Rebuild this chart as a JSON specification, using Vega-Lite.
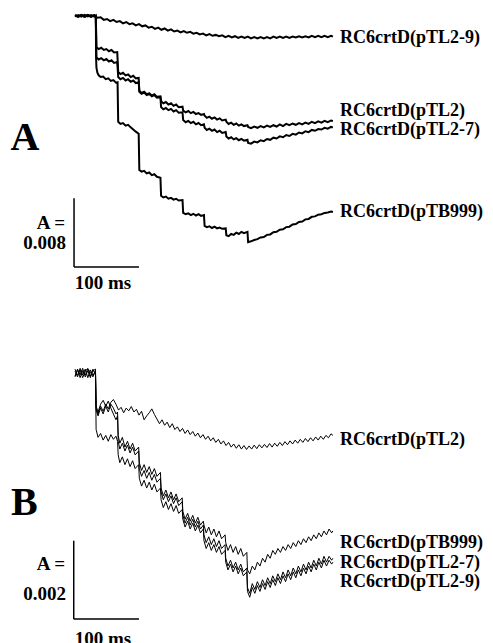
{
"$schema":"https://vega.github.io/schema/vega-lite/v6.json",
"width":493,"height":643,"padding":0,"autosize":{"type":"none"},
"config":{"view":{"stroke":null},"font":"Liberation Serif"},
"datasets":{
"panelA":[
{"s":"pTL2-9","t":0,"v":0.1},{"s":"pTL2-9","t":5,"v":-0.05},{"s":"pTL2-9","t":10,"v":0.12},{"s":"pTL2-9","t":15,"v":-0.08},{"s":"pTL2-9","t":20,"v":0.1},{"s":"pTL2-9","t":25,"v":-0.06},{"s":"pTL2-9","t":30,"v":0.08},{"s":"pTL2-9","t":35,"v":-0.2},{"s":"pTL2-9","t":40,"v":-0.15},{"s":"pTL2-9","t":45,"v":-0.45},{"s":"pTL2-9","t":50,"v":-0.35},{"s":"pTL2-9","t":55,"v":-0.6},{"s":"pTL2-9","t":60,"v":-0.45},{"s":"pTL2-9","t":65,"v":-0.7},{"s":"pTL2-9","t":70,"v":-0.6},{"s":"pTL2-9","t":75,"v":-0.85},{"s":"pTL2-9","t":80,"v":-0.7},{"s":"pTL2-9","t":85,"v":-0.95},{"s":"pTL2-9","t":90,"v":-0.85},{"s":"pTL2-9","t":95,"v":-1.1},{"s":"pTL2-9","t":100,"v":-0.95},{"s":"pTL2-9","t":105,"v":-1.2},{"s":"pTL2-9","t":110,"v":-1.1},{"s":"pTL2-9","t":115,"v":-1.35},{"s":"pTL2-9","t":120,"v":-1.25},{"s":"pTL2-9","t":125,"v":-1.5},{"s":"pTL2-9","t":130,"v":-1.35},{"s":"pTL2-9","t":135,"v":-1.6},{"s":"pTL2-9","t":140,"v":-1.45},{"s":"pTL2-9","t":145,"v":-1.7},{"s":"pTL2-9","t":150,"v":-1.55},{"s":"pTL2-9","t":155,"v":-1.8},{"s":"pTL2-9","t":160,"v":-1.7},{"s":"pTL2-9","t":165,"v":-1.9},{"s":"pTL2-9","t":170,"v":-1.75},{"s":"pTL2-9","t":175,"v":-1.95},{"s":"pTL2-9","t":180,"v":-1.85},{"s":"pTL2-9","t":185,"v":-2.05},{"s":"pTL2-9","t":190,"v":-1.95},{"s":"pTL2-9","t":195,"v":-2.15},{"s":"pTL2-9","t":200,"v":-2.05},{"s":"pTL2-9","t":205,"v":-2.25},{"s":"pTL2-9","t":210,"v":-2.1},{"s":"pTL2-9","t":215,"v":-2.3},{"s":"pTL2-9","t":220,"v":-2.2},{"s":"pTL2-9","t":225,"v":-2.35},{"s":"pTL2-9","t":230,"v":-2.25},{"s":"pTL2-9","t":235,"v":-2.45},{"s":"pTL2-9","t":240,"v":-2.3},{"s":"pTL2-9","t":245,"v":-2.5},{"s":"pTL2-9","t":250,"v":-2.35},{"s":"pTL2-9","t":255,"v":-2.55},{"s":"pTL2-9","t":260,"v":-2.4},{"s":"pTL2-9","t":265,"v":-2.55},{"s":"pTL2-9","t":270,"v":-2.4},{"s":"pTL2-9","t":275,"v":-2.6},{"s":"pTL2-9","t":280,"v":-2.45},{"s":"pTL2-9","t":285,"v":-2.6},{"s":"pTL2-9","t":290,"v":-2.45},{"s":"pTL2-9","t":295,"v":-2.6},{"s":"pTL2-9","t":300,"v":-2.45},{"s":"pTL2-9","t":305,"v":-2.6},{"s":"pTL2-9","t":310,"v":-2.4},{"s":"pTL2-9","t":315,"v":-2.55},{"s":"pTL2-9","t":320,"v":-2.4},{"s":"pTL2-9","t":325,"v":-2.55},{"s":"pTL2-9","t":330,"v":-2.4},{"s":"pTL2-9","t":335,"v":-2.55},{"s":"pTL2-9","t":340,"v":-2.4},{"s":"pTL2-9","t":345,"v":-2.5},{"s":"pTL2-9","t":350,"v":-2.35},{"s":"pTL2-9","t":355,"v":-2.5},{"s":"pTL2-9","t":360,"v":-2.35},{"s":"pTL2-9","t":365,"v":-2.5},{"s":"pTL2-9","t":370,"v":-2.3},{"s":"pTL2-9","t":375,"v":-2.45},{"s":"pTL2-9","t":380,"v":-2.3},{"s":"pTL2-9","t":385,"v":-2.45},{"s":"pTL2-9","t":390,"v":-2.3},{"s":"pTL2-9","t":395,"v":-2.45},{"s":"pTL2-9","t":400,"v":-2.3},{"s":"pTL2-9","t":403,"v":-2.4},
{"s":"pTL2","t":0,"v":0.05},{"s":"pTL2","t":5,"v":-0.1},{"s":"pTL2","t":10,"v":0.1},{"s":"pTL2","t":15,"v":-0.05},{"s":"pTL2","t":20,"v":0.12},{"s":"pTL2","t":25,"v":-0.08},{"s":"pTL2","t":30,"v":0.06},{"s":"pTL2","t":32.5,"v":-0.05},
{"s":"pTL2","t":33.5,"v":-3.6},{"s":"pTL2","t":37,"v":-3.85},{"s":"pTL2","t":41,"v":-3.7},{"s":"pTL2","t":45,"v":-3.95},{"s":"pTL2","t":49,"v":-3.85},{"s":"pTL2","t":53,"v":-4.1},{"s":"pTL2","t":57,"v":-3.95},{"s":"pTL2","t":61,"v":-4.25},{"s":"pTL2","t":66,"v":-4.2},
{"s":"pTL2","t":67.5,"v":-6.5},{"s":"pTL2","t":71,"v":-6.75},{"s":"pTL2","t":75,"v":-6.6},{"s":"pTL2","t":79,"v":-6.9},{"s":"pTL2","t":83,"v":-6.8},{"s":"pTL2","t":87,"v":-7.1},{"s":"pTL2","t":91,"v":-6.95},{"s":"pTL2","t":95,"v":-7.25},{"s":"pTL2","t":99.5,"v":-7.2},
{"s":"pTL2","t":100.5,"v":-8.7},{"s":"pTL2","t":104,"v":-8.95},{"s":"pTL2","t":108,"v":-8.8},{"s":"pTL2","t":112,"v":-9.1},{"s":"pTL2","t":116,"v":-9.0},{"s":"pTL2","t":120,"v":-9.25},{"s":"pTL2","t":124,"v":-9.1},{"s":"pTL2","t":128,"v":-9.4},{"s":"pTL2","t":133.5,"v":-9.35},
{"s":"pTL2","t":134.5,"v":-9.9},{"s":"pTL2","t":138,"v":-10.15},{"s":"pTL2","t":142,"v":-10.0},{"s":"pTL2","t":146,"v":-10.3},{"s":"pTL2","t":150,"v":-10.15},{"s":"pTL2","t":154,"v":-10.45},{"s":"pTL2","t":158,"v":-10.3},{"s":"pTL2","t":162,"v":-10.6},{"s":"pTL2","t":168,"v":-10.55},
{"s":"pTL2","t":169,"v":-11.0},{"s":"pTL2","t":173,"v":-11.2},{"s":"pTL2","t":177,"v":-11.05},{"s":"pTL2","t":181,"v":-11.3},{"s":"pTL2","t":185,"v":-11.15},{"s":"pTL2","t":189,"v":-11.4},{"s":"pTL2","t":193,"v":-11.3},{"s":"pTL2","t":197,"v":-11.5},{"s":"pTL2","t":201.5,"v":-11.4},
{"s":"pTL2","t":202.5,"v":-11.6},{"s":"pTL2","t":206,"v":-11.85},{"s":"pTL2","t":210,"v":-11.7},{"s":"pTL2","t":214,"v":-11.95},{"s":"pTL2","t":218,"v":-11.8},{"s":"pTL2","t":222,"v":-12.05},{"s":"pTL2","t":226,"v":-11.9},{"s":"pTL2","t":230,"v":-12.15},{"s":"pTL2","t":235.5,"v":-12.05},
{"s":"pTL2","t":236.5,"v":-12.3},{"s":"pTL2","t":240,"v":-12.55},{"s":"pTL2","t":244,"v":-12.4},{"s":"pTL2","t":248,"v":-12.65},{"s":"pTL2","t":252,"v":-12.5},{"s":"pTL2","t":256,"v":-12.75},{"s":"pTL2","t":260,"v":-12.6},{"s":"pTL2","t":264,"v":-12.8},{"s":"pTL2","t":269.5,"v":-12.7},
{"s":"pTL2","t":270.5,"v":-12.9},{"s":"pTL2","t":275,"v":-13.05},{"s":"pTL2","t":280,"v":-12.85},{"s":"pTL2","t":285,"v":-13.0},{"s":"pTL2","t":290,"v":-12.8},{"s":"pTL2","t":295,"v":-12.95},{"s":"pTL2","t":300,"v":-12.75},{"s":"pTL2","t":305,"v":-12.9},{"s":"pTL2","t":310,"v":-12.7},{"s":"pTL2","t":315,"v":-12.85},{"s":"pTL2","t":320,"v":-12.6},{"s":"pTL2","t":325,"v":-12.8},{"s":"pTL2","t":330,"v":-12.55},{"s":"pTL2","t":335,"v":-12.7},{"s":"pTL2","t":340,"v":-12.5},{"s":"pTL2","t":345,"v":-12.65},{"s":"pTL2","t":350,"v":-12.45},{"s":"pTL2","t":355,"v":-12.6},{"s":"pTL2","t":360,"v":-12.4},{"s":"pTL2","t":365,"v":-12.55},{"s":"pTL2","t":370,"v":-12.3},{"s":"pTL2","t":375,"v":-12.45},{"s":"pTL2","t":380,"v":-12.25},{"s":"pTL2","t":385,"v":-12.4},{"s":"pTL2","t":390,"v":-12.2},{"s":"pTL2","t":395,"v":-12.35},{"s":"pTL2","t":400,"v":-12.15},{"s":"pTL2","t":403,"v":-12.2},
{"s":"pTL2-7","t":0,"v":-0.05},{"s":"pTL2-7","t":5,"v":0.1},{"s":"pTL2-7","t":10,"v":-0.08},{"s":"pTL2-7","t":15,"v":0.12},{"s":"pTL2-7","t":20,"v":-0.05},{"s":"pTL2-7","t":25,"v":0.1},{"s":"pTL2-7","t":30,"v":-0.06},{"s":"pTL2-7","t":32.5,"v":0.05},
{"s":"pTL2-7","t":33.5,"v":-4.8},{"s":"pTL2-7","t":37,"v":-5.05},{"s":"pTL2-7","t":41,"v":-4.9},{"s":"pTL2-7","t":45,"v":-5.15},{"s":"pTL2-7","t":49,"v":-5.0},{"s":"pTL2-7","t":53,"v":-5.3},{"s":"pTL2-7","t":57,"v":-5.15},{"s":"pTL2-7","t":61,"v":-5.45},{"s":"pTL2-7","t":66,"v":-5.35},
{"s":"pTL2-7","t":67.5,"v":-7.1},{"s":"pTL2-7","t":71,"v":-7.35},{"s":"pTL2-7","t":75,"v":-7.2},{"s":"pTL2-7","t":79,"v":-7.5},{"s":"pTL2-7","t":83,"v":-7.35},{"s":"pTL2-7","t":87,"v":-7.65},{"s":"pTL2-7","t":91,"v":-7.5},{"s":"pTL2-7","t":95,"v":-7.8},{"s":"pTL2-7","t":99.5,"v":-7.7},
{"s":"pTL2-7","t":100.5,"v":-8.8},{"s":"pTL2-7","t":104,"v":-9.05},{"s":"pTL2-7","t":108,"v":-8.9},{"s":"pTL2-7","t":112,"v":-9.2},{"s":"pTL2-7","t":116,"v":-9.05},{"s":"pTL2-7","t":120,"v":-9.35},{"s":"pTL2-7","t":124,"v":-9.2},{"s":"pTL2-7","t":128,"v":-9.5},{"s":"pTL2-7","t":133.5,"v":-9.45},
{"s":"pTL2-7","t":134.5,"v":-10.6},{"s":"pTL2-7","t":138,"v":-10.85},{"s":"pTL2-7","t":142,"v":-10.7},{"s":"pTL2-7","t":146,"v":-10.95},{"s":"pTL2-7","t":150,"v":-10.8},{"s":"pTL2-7","t":154,"v":-11.1},{"s":"pTL2-7","t":158,"v":-10.95},{"s":"pTL2-7","t":162,"v":-11.25},{"s":"pTL2-7","t":168,"v":-11.2},
{"s":"pTL2-7","t":169,"v":-12.1},{"s":"pTL2-7","t":173,"v":-12.35},{"s":"pTL2-7","t":177,"v":-12.2},{"s":"pTL2-7","t":181,"v":-12.45},{"s":"pTL2-7","t":185,"v":-12.3},{"s":"pTL2-7","t":189,"v":-12.6},{"s":"pTL2-7","t":193,"v":-12.45},{"s":"pTL2-7","t":197,"v":-12.7},{"s":"pTL2-7","t":201.5,"v":-12.6},
{"s":"pTL2-7","t":202.5,"v":-13.0},{"s":"pTL2-7","t":206,"v":-13.25},{"s":"pTL2-7","t":210,"v":-13.1},{"s":"pTL2-7","t":214,"v":-13.35},{"s":"pTL2-7","t":218,"v":-13.2},{"s":"pTL2-7","t":222,"v":-13.5},{"s":"pTL2-7","t":226,"v":-13.35},{"s":"pTL2-7","t":230,"v":-13.6},{"s":"pTL2-7","t":235.5,"v":-13.5},
{"s":"pTL2-7","t":236.5,"v":-14.0},{"s":"pTL2-7","t":240,"v":-14.25},{"s":"pTL2-7","t":244,"v":-14.1},{"s":"pTL2-7","t":248,"v":-14.35},{"s":"pTL2-7","t":252,"v":-14.2},{"s":"pTL2-7","t":256,"v":-14.45},{"s":"pTL2-7","t":260,"v":-14.3},{"s":"pTL2-7","t":264,"v":-14.5},{"s":"pTL2-7","t":269.5,"v":-14.4},
{"s":"pTL2-7","t":270.5,"v":-14.75},{"s":"pTL2-7","t":275,"v":-14.85},{"s":"pTL2-7","t":280,"v":-14.6},{"s":"pTL2-7","t":285,"v":-14.7},{"s":"pTL2-7","t":290,"v":-14.45},{"s":"pTL2-7","t":295,"v":-14.55},{"s":"pTL2-7","t":300,"v":-14.3},{"s":"pTL2-7","t":305,"v":-14.4},{"s":"pTL2-7","t":310,"v":-14.15},{"s":"pTL2-7","t":315,"v":-14.25},{"s":"pTL2-7","t":320,"v":-14.0},{"s":"pTL2-7","t":325,"v":-14.1},{"s":"pTL2-7","t":330,"v":-13.85},{"s":"pTL2-7","t":335,"v":-13.95},{"s":"pTL2-7","t":340,"v":-13.7},{"s":"pTL2-7","t":345,"v":-13.8},{"s":"pTL2-7","t":350,"v":-13.55},{"s":"pTL2-7","t":355,"v":-13.65},{"s":"pTL2-7","t":360,"v":-13.4},{"s":"pTL2-7","t":365,"v":-13.5},{"s":"pTL2-7","t":370,"v":-13.25},{"s":"pTL2-7","t":375,"v":-13.35},{"s":"pTL2-7","t":380,"v":-13.15},{"s":"pTL2-7","t":385,"v":-13.2},{"s":"pTL2-7","t":390,"v":-13.0},{"s":"pTL2-7","t":395,"v":-13.1},{"s":"pTL2-7","t":400,"v":-12.9},{"s":"pTL2-7","t":403,"v":-12.95},
{"s":"pTB999","t":0,"v":0.08},{"s":"pTB999","t":5,"v":-0.06},{"s":"pTB999","t":10,"v":0.1},{"s":"pTB999","t":15,"v":-0.1},{"s":"pTB999","t":20,"v":0.06},{"s":"pTB999","t":25,"v":-0.08},{"s":"pTB999","t":30,"v":0.1},{"s":"pTB999","t":32.5,"v":0},
{"s":"pTB999","t":33,"v":-5.0},{"s":"pTB999","t":33.5,"v":-6.0},{"s":"pTB999","t":35,"v":-6.6},{"s":"pTB999","t":37,"v":-6.9},{"s":"pTB999","t":40,"v":-7.1},{"s":"pTB999","t":44,"v":-7.05},{"s":"pTB999","t":48,"v":-7.35},{"s":"pTB999","t":52,"v":-7.25},{"s":"pTB999","t":56,"v":-7.55},{"s":"pTB999","t":60,"v":-7.45},{"s":"pTB999","t":64,"v":-7.75},{"s":"pTB999","t":66.5,"v":-7.7},
{"s":"pTB999","t":67.5,"v":-12.3},{"s":"pTB999","t":71,"v":-12.55},{"s":"pTB999","t":75,"v":-12.45},{"s":"pTB999","t":79,"v":-12.75},{"s":"pTB999","t":83,"v":-12.65},{"s":"pTB999","t":87,"v":-12.95},{"s":"pTB999","t":91,"v":-13.2},{"s":"pTB999","t":95,"v":-13.45},{"s":"pTB999","t":99.5,"v":-13.7},
{"s":"pTB999","t":100.5,"v":-17.9},{"s":"pTB999","t":104,"v":-18.1},{"s":"pTB999","t":108,"v":-18.0},{"s":"pTB999","t":112,"v":-18.3},{"s":"pTB999","t":116,"v":-18.2},{"s":"pTB999","t":120,"v":-18.5},{"s":"pTB999","t":124,"v":-18.4},{"s":"pTB999","t":128,"v":-18.7},{"s":"pTB999","t":133.5,"v":-18.8},
{"s":"pTB999","t":134.5,"v":-20.9},{"s":"pTB999","t":138,"v":-21.1},{"s":"pTB999","t":142,"v":-21.0},{"s":"pTB999","t":146,"v":-21.25},{"s":"pTB999","t":150,"v":-21.15},{"s":"pTB999","t":154,"v":-21.35},{"s":"pTB999","t":158,"v":-21.25},{"s":"pTB999","t":162,"v":-21.45},{"s":"pTB999","t":168,"v":-21.4},
{"s":"pTB999","t":169,"v":-22.9},{"s":"pTB999","t":173,"v":-23.05},{"s":"pTB999","t":177,"v":-22.95},{"s":"pTB999","t":181,"v":-23.15},{"s":"pTB999","t":185,"v":-23.0},{"s":"pTB999","t":189,"v":-23.2},{"s":"pTB999","t":193,"v":-23.05},{"s":"pTB999","t":197,"v":-23.25},{"s":"pTB999","t":201.5,"v":-23.15},
{"s":"pTB999","t":202.5,"v":-24.4},{"s":"pTB999","t":206,"v":-24.55},{"s":"pTB999","t":210,"v":-24.45},{"s":"pTB999","t":214,"v":-24.65},{"s":"pTB999","t":218,"v":-24.5},{"s":"pTB999","t":222,"v":-24.7},{"s":"pTB999","t":226,"v":-24.6},{"s":"pTB999","t":230,"v":-24.75},{"s":"pTB999","t":235.5,"v":-24.7},
{"s":"pTB999","t":236.5,"v":-25.5},{"s":"pTB999","t":240,"v":-25.6},{"s":"pTB999","t":244,"v":-25.35},{"s":"pTB999","t":248,"v":-25.45},{"s":"pTB999","t":252,"v":-25.2},{"s":"pTB999","t":256,"v":-25.35},{"s":"pTB999","t":260,"v":-25.1},{"s":"pTB999","t":264,"v":-25.25},{"s":"pTB999","t":269.5,"v":-25.1},
{"s":"pTB999","t":270.5,"v":-26.3},{"s":"pTB999","t":275,"v":-26.2},{"s":"pTB999","t":280,"v":-26.05},{"s":"pTB999","t":285,"v":-25.95},{"s":"pTB999","t":290,"v":-25.75},{"s":"pTB999","t":295,"v":-25.7},{"s":"pTB999","t":300,"v":-25.45},{"s":"pTB999","t":305,"v":-25.4},{"s":"pTB999","t":310,"v":-25.15},{"s":"pTB999","t":315,"v":-25.1},{"s":"pTB999","t":320,"v":-24.85},{"s":"pTB999","t":325,"v":-24.8},{"s":"pTB999","t":330,"v":-24.55},{"s":"pTB999","t":335,"v":-24.5},{"s":"pTB999","t":340,"v":-24.25},{"s":"pTB999","t":345,"v":-24.2},{"s":"pTB999","t":350,"v":-23.95},{"s":"pTB999","t":355,"v":-23.9},{"s":"pTB999","t":360,"v":-23.65},{"s":"pTB999","t":365,"v":-23.6},{"s":"pTB999","t":370,"v":-23.35},{"s":"pTB999","t":375,"v":-23.3},{"s":"pTB999","t":380,"v":-23.1},{"s":"pTB999","t":385,"v":-23.05},{"s":"pTB999","t":390,"v":-22.9},{"s":"pTB999","t":395,"v":-22.85},{"s":"pTB999","t":400,"v":-22.75},{"s":"pTB999","t":403,"v":-22.8}
],
"panelB":[
{"s":"pTL2","t":0,"v":0.05},{"s":"pTL2","t":4,"v":-0.1},{"s":"pTL2","t":8,"v":0.12},{"s":"pTL2","t":12,"v":-0.05},{"s":"pTL2","t":16,"v":0.1},{"s":"pTL2","t":20,"v":-0.12},{"s":"pTL2","t":24,"v":0.08},{"s":"pTL2","t":28,"v":-0.06},{"s":"pTL2","t":32,"v":0.04},
{"s":"pTL2","t":33,"v":-0.9},{"s":"pTL2","t":36,"v":-1.05},{"s":"pTL2","t":40,"v":-0.85},{"s":"pTL2","t":44,"v":-0.98},{"s":"pTL2","t":48,"v":-0.8},{"s":"pTL2","t":52,"v":-0.92},{"s":"pTL2","t":56,"v":-0.75},{"s":"pTL2","t":60,"v":-0.68},{"s":"pTL2","t":64,"v":-0.8},{"s":"pTL2","t":68,"v":-0.95},{"s":"pTL2","t":72,"v":-0.88},{"s":"pTL2","t":76,"v":-1.02},{"s":"pTL2","t":80,"v":-0.9},{"s":"pTL2","t":84,"v":-0.97},{"s":"pTL2","t":88,"v":-0.86},{"s":"pTL2","t":92,"v":-1.0},{"s":"pTL2","t":96,"v":-0.93},{"s":"pTL2","t":100,"v":-1.08},{"s":"pTL2","t":104,"v":-0.98},{"s":"pTL2","t":108,"v":-1.2},{"s":"pTL2","t":112,"v":-1.1},{"s":"pTL2","t":116,"v":-1.02},{"s":"pTL2","t":120,"v":-0.92},{"s":"pTL2","t":124,"v":-1.06},{"s":"pTL2","t":128,"v":-1.18},{"s":"pTL2","t":132,"v":-1.3},{"s":"pTL2","t":136,"v":-1.2},{"s":"pTL2","t":140,"v":-1.34},{"s":"pTL2","t":144,"v":-1.26},{"s":"pTL2","t":148,"v":-1.4},{"s":"pTL2","t":152,"v":-1.3},{"s":"pTL2","t":156,"v":-1.45},{"s":"pTL2","t":160,"v":-1.38},{"s":"pTL2","t":164,"v":-1.5},{"s":"pTL2","t":168,"v":-1.42},{"s":"pTL2","t":172,"v":-1.55},{"s":"pTL2","t":176,"v":-1.46},{"s":"pTL2","t":180,"v":-1.58},{"s":"pTL2","t":184,"v":-1.5},{"s":"pTL2","t":188,"v":-1.62},{"s":"pTL2","t":192,"v":-1.54},{"s":"pTL2","t":196,"v":-1.66},{"s":"pTL2","t":200,"v":-1.58},{"s":"pTL2","t":204,"v":-1.7},{"s":"pTL2","t":208,"v":-1.62},{"s":"pTL2","t":212,"v":-1.74},{"s":"pTL2","t":216,"v":-1.66},{"s":"pTL2","t":220,"v":-1.78},{"s":"pTL2","t":224,"v":-1.7},{"s":"pTL2","t":228,"v":-1.82},{"s":"pTL2","t":232,"v":-1.74},{"s":"pTL2","t":236,"v":-1.86},{"s":"pTL2","t":240,"v":-1.78},{"s":"pTL2","t":244,"v":-1.9},{"s":"pTL2","t":248,"v":-1.82},{"s":"pTL2","t":252,"v":-1.93},{"s":"pTL2","t":256,"v":-1.84},{"s":"pTL2","t":260,"v":-1.95},{"s":"pTL2","t":264,"v":-1.86},{"s":"pTL2","t":268,"v":-1.96},{"s":"pTL2","t":272,"v":-1.87},{"s":"pTL2","t":276,"v":-1.95},{"s":"pTL2","t":280,"v":-1.85},{"s":"pTL2","t":284,"v":-1.94},{"s":"pTL2","t":288,"v":-1.84},{"s":"pTL2","t":292,"v":-1.92},{"s":"pTL2","t":296,"v":-1.83},{"s":"pTL2","t":300,"v":-1.91},{"s":"pTL2","t":304,"v":-1.81},{"s":"pTL2","t":308,"v":-1.9},{"s":"pTL2","t":312,"v":-1.8},{"s":"pTL2","t":316,"v":-1.88},{"s":"pTL2","t":320,"v":-1.78},{"s":"pTL2","t":324,"v":-1.86},{"s":"pTL2","t":328,"v":-1.76},{"s":"pTL2","t":332,"v":-1.84},{"s":"pTL2","t":336,"v":-1.74},{"s":"pTL2","t":340,"v":-1.82},{"s":"pTL2","t":344,"v":-1.72},{"s":"pTL2","t":348,"v":-1.8},{"s":"pTL2","t":352,"v":-1.7},{"s":"pTL2","t":356,"v":-1.78},{"s":"pTL2","t":360,"v":-1.68},{"s":"pTL2","t":364,"v":-1.76},{"s":"pTL2","t":368,"v":-1.66},{"s":"pTL2","t":372,"v":-1.74},{"s":"pTL2","t":376,"v":-1.64},{"s":"pTL2","t":380,"v":-1.72},{"s":"pTL2","t":384,"v":-1.62},{"s":"pTL2","t":388,"v":-1.7},{"s":"pTL2","t":392,"v":-1.6},{"s":"pTL2","t":396,"v":-1.66},{"s":"pTL2","t":400,"v":-1.56},{"s":"pTL2","t":403,"v":-1.6},
{"s":"pTL2-9","t":0,"v":-0.08},{"s":"pTL2-9","t":4,"v":0.1},{"s":"pTL2-9","t":8,"v":-0.05},{"s":"pTL2-9","t":12,"v":0.12},{"s":"pTL2-9","t":16,"v":-0.1},{"s":"pTL2-9","t":20,"v":0.06},{"s":"pTL2-9","t":24,"v":-0.12},{"s":"pTL2-9","t":28,"v":0.1},{"s":"pTL2-9","t":32,"v":-0.05},
{"s":"pTL2-9","t":33,"v":-1.45},{"s":"pTL2-9","t":36,"v":-1.65},{"s":"pTL2-9","t":40,"v":-1.55},{"s":"pTL2-9","t":44,"v":-1.72},{"s":"pTL2-9","t":48,"v":-1.6},{"s":"pTL2-9","t":52,"v":-1.75},{"s":"pTL2-9","t":56,"v":-1.58},{"s":"pTL2-9","t":60,"v":-1.7},{"s":"pTL2-9","t":64,"v":-1.62},{"s":"pTL2-9","t":66.5,"v":-1.75},
{"s":"pTL2-9","t":67.5,"v":-2.1},{"s":"pTL2-9","t":70,"v":-2.3},{"s":"pTL2-9","t":74,"v":-2.15},{"s":"pTL2-9","t":78,"v":-2.35},{"s":"pTL2-9","t":82,"v":-2.2},{"s":"pTL2-9","t":86,"v":-2.4},{"s":"pTL2-9","t":90,"v":-2.25},{"s":"pTL2-9","t":94,"v":-2.45},{"s":"pTL2-9","t":99.5,"v":-2.35},
{"s":"pTL2-9","t":100.5,"v":-2.7},{"s":"pTL2-9","t":104,"v":-2.9},{"s":"pTL2-9","t":108,"v":-2.75},{"s":"pTL2-9","t":112,"v":-2.95},{"s":"pTL2-9","t":116,"v":-2.8},{"s":"pTL2-9","t":120,"v":-3.0},{"s":"pTL2-9","t":124,"v":-2.85},{"s":"pTL2-9","t":128,"v":-3.05},{"s":"pTL2-9","t":133.5,"v":-2.95},
{"s":"pTL2-9","t":134.5,"v":-3.25},{"s":"pTL2-9","t":138,"v":-3.45},{"s":"pTL2-9","t":142,"v":-3.3},{"s":"pTL2-9","t":146,"v":-3.5},{"s":"pTL2-9","t":150,"v":-3.35},{"s":"pTL2-9","t":154,"v":-3.55},{"s":"pTL2-9","t":158,"v":-3.4},{"s":"pTL2-9","t":162,"v":-3.6},{"s":"pTL2-9","t":167.5,"v":-3.5},
{"s":"pTL2-9","t":168.5,"v":-3.75},{"s":"pTL2-9","t":172,"v":-3.95},{"s":"pTL2-9","t":176,"v":-3.8},{"s":"pTL2-9","t":180,"v":-4.0},{"s":"pTL2-9","t":184,"v":-3.85},{"s":"pTL2-9","t":188,"v":-4.05},{"s":"pTL2-9","t":192,"v":-3.9},{"s":"pTL2-9","t":196,"v":-4.1},{"s":"pTL2-9","t":200.5,"v":-4.0},
{"s":"pTL2-9","t":201.5,"v":-4.3},{"s":"pTL2-9","t":205,"v":-4.5},{"s":"pTL2-9","t":209,"v":-4.35},{"s":"pTL2-9","t":213,"v":-4.55},{"s":"pTL2-9","t":217,"v":-4.4},{"s":"pTL2-9","t":221,"v":-4.6},{"s":"pTL2-9","t":225,"v":-4.45},{"s":"pTL2-9","t":229,"v":-4.65},{"s":"pTL2-9","t":234.5,"v":-4.55},
{"s":"pTL2-9","t":235.5,"v":-4.85},{"s":"pTL2-9","t":239,"v":-5.05},{"s":"pTL2-9","t":243,"v":-4.9},{"s":"pTL2-9","t":247,"v":-5.1},{"s":"pTL2-9","t":251,"v":-4.95},{"s":"pTL2-9","t":255,"v":-5.15},{"s":"pTL2-9","t":259,"v":-5.0},{"s":"pTL2-9","t":263,"v":-5.2},{"s":"pTL2-9","t":268.5,"v":-5.1},
{"s":"pTL2-9","t":269.5,"v":-5.6},{"s":"pTL2-9","t":273,"v":-5.75},{"s":"pTL2-9","t":277,"v":-5.5},{"s":"pTL2-9","t":281,"v":-5.65},{"s":"pTL2-9","t":285,"v":-5.45},{"s":"pTL2-9","t":289,"v":-5.6},{"s":"pTL2-9","t":293,"v":-5.4},{"s":"pTL2-9","t":297,"v":-5.55},{"s":"pTL2-9","t":301,"v":-5.35},{"s":"pTL2-9","t":305,"v":-5.5},{"s":"pTL2-9","t":309,"v":-5.3},{"s":"pTL2-9","t":313,"v":-5.45},{"s":"pTL2-9","t":317,"v":-5.25},{"s":"pTL2-9","t":321,"v":-5.4},{"s":"pTL2-9","t":325,"v":-5.2},{"s":"pTL2-9","t":329,"v":-5.35},{"s":"pTL2-9","t":333,"v":-5.15},{"s":"pTL2-9","t":337,"v":-5.3},{"s":"pTL2-9","t":341,"v":-5.1},{"s":"pTL2-9","t":345,"v":-5.25},{"s":"pTL2-9","t":349,"v":-5.05},{"s":"pTL2-9","t":353,"v":-5.2},{"s":"pTL2-9","t":357,"v":-5.0},{"s":"pTL2-9","t":361,"v":-5.15},{"s":"pTL2-9","t":365,"v":-4.95},{"s":"pTL2-9","t":369,"v":-5.1},{"s":"pTL2-9","t":373,"v":-4.9},{"s":"pTL2-9","t":377,"v":-5.05},{"s":"pTL2-9","t":381,"v":-4.85},{"s":"pTL2-9","t":385,"v":-5.0},{"s":"pTL2-9","t":389,"v":-4.8},{"s":"pTL2-9","t":393,"v":-4.95},{"s":"pTL2-9","t":397,"v":-4.8},{"s":"pTL2-9","t":401,"v":-4.9},{"s":"pTL2-9","t":403,"v":-4.85},
{"s":"pTL2-7","t":0,"v":0.1},{"s":"pTL2-7","t":4,"v":-0.06},{"s":"pTL2-7","t":8,"v":0.08},{"s":"pTL2-7","t":12,"v":-0.12},{"s":"pTL2-7","t":16,"v":0.05},{"s":"pTL2-7","t":20,"v":0.12},{"s":"pTL2-7","t":24,"v":-0.08},{"s":"pTL2-7","t":28,"v":0.05},{"s":"pTL2-7","t":32,"v":0.1},
{"s":"pTL2-7","t":33,"v":-0.95},{"s":"pTL2-7","t":36,"v":-1.1},{"s":"pTL2-7","t":40,"v":-0.9},{"s":"pTL2-7","t":44,"v":-1.05},{"s":"pTL2-7","t":48,"v":-0.85},{"s":"pTL2-7","t":52,"v":-1.0},{"s":"pTL2-7","t":56,"v":-0.8},{"s":"pTL2-7","t":60,"v":-0.9},{"s":"pTL2-7","t":64,"v":-1.05},{"s":"pTL2-7","t":66.5,"v":-1.0},
{"s":"pTL2-7","t":67.5,"v":-1.75},{"s":"pTL2-7","t":70,"v":-1.95},{"s":"pTL2-7","t":74,"v":-1.8},{"s":"pTL2-7","t":78,"v":-2.0},{"s":"pTL2-7","t":82,"v":-1.85},{"s":"pTL2-7","t":86,"v":-2.05},{"s":"pTL2-7","t":90,"v":-1.9},{"s":"pTL2-7","t":94,"v":-2.1},{"s":"pTL2-7","t":99.5,"v":-2.0},
{"s":"pTL2-7","t":100.5,"v":-2.45},{"s":"pTL2-7","t":104,"v":-2.65},{"s":"pTL2-7","t":108,"v":-2.5},{"s":"pTL2-7","t":112,"v":-2.7},{"s":"pTL2-7","t":116,"v":-2.55},{"s":"pTL2-7","t":120,"v":-2.75},{"s":"pTL2-7","t":124,"v":-2.6},{"s":"pTL2-7","t":128,"v":-2.8},{"s":"pTL2-7","t":133.5,"v":-2.7},
{"s":"pTL2-7","t":134.5,"v":-3.05},{"s":"pTL2-7","t":138,"v":-3.25},{"s":"pTL2-7","t":142,"v":-3.1},{"s":"pTL2-7","t":146,"v":-3.3},{"s":"pTL2-7","t":150,"v":-3.15},{"s":"pTL2-7","t":154,"v":-3.35},{"s":"pTL2-7","t":158,"v":-3.2},{"s":"pTL2-7","t":162,"v":-3.4},{"s":"pTL2-7","t":167.5,"v":-3.3},
{"s":"pTL2-7","t":168.5,"v":-3.65},{"s":"pTL2-7","t":172,"v":-3.85},{"s":"pTL2-7","t":176,"v":-3.7},{"s":"pTL2-7","t":180,"v":-3.9},{"s":"pTL2-7","t":184,"v":-3.75},{"s":"pTL2-7","t":188,"v":-3.95},{"s":"pTL2-7","t":192,"v":-3.8},{"s":"pTL2-7","t":196,"v":-4.0},{"s":"pTL2-7","t":200.5,"v":-3.9},
{"s":"pTL2-7","t":201.5,"v":-4.15},{"s":"pTL2-7","t":205,"v":-4.35},{"s":"pTL2-7","t":209,"v":-4.2},{"s":"pTL2-7","t":213,"v":-4.4},{"s":"pTL2-7","t":217,"v":-4.25},{"s":"pTL2-7","t":221,"v":-4.45},{"s":"pTL2-7","t":225,"v":-4.3},{"s":"pTL2-7","t":229,"v":-4.5},{"s":"pTL2-7","t":234.5,"v":-4.4},
{"s":"pTL2-7","t":235.5,"v":-4.75},{"s":"pTL2-7","t":239,"v":-4.95},{"s":"pTL2-7","t":243,"v":-4.8},{"s":"pTL2-7","t":247,"v":-5.0},{"s":"pTL2-7","t":251,"v":-4.85},{"s":"pTL2-7","t":255,"v":-5.05},{"s":"pTL2-7","t":259,"v":-4.9},{"s":"pTL2-7","t":263,"v":-5.1},{"s":"pTL2-7","t":268.5,"v":-5.0},
{"s":"pTL2-7","t":269.5,"v":-5.5},{"s":"pTL2-7","t":273,"v":-5.65},{"s":"pTL2-7","t":277,"v":-5.4},{"s":"pTL2-7","t":281,"v":-5.55},{"s":"pTL2-7","t":285,"v":-5.35},{"s":"pTL2-7","t":289,"v":-5.5},{"s":"pTL2-7","t":293,"v":-5.3},{"s":"pTL2-7","t":297,"v":-5.45},{"s":"pTL2-7","t":301,"v":-5.25},{"s":"pTL2-7","t":305,"v":-5.4},{"s":"pTL2-7","t":309,"v":-5.2},{"s":"pTL2-7","t":313,"v":-5.35},{"s":"pTL2-7","t":317,"v":-5.15},{"s":"pTL2-7","t":321,"v":-5.3},{"s":"pTL2-7","t":325,"v":-5.1},{"s":"pTL2-7","t":329,"v":-5.25},{"s":"pTL2-7","t":333,"v":-5.05},{"s":"pTL2-7","t":337,"v":-5.2},{"s":"pTL2-7","t":341,"v":-5.0},{"s":"pTL2-7","t":345,"v":-5.15},{"s":"pTL2-7","t":349,"v":-4.95},{"s":"pTL2-7","t":353,"v":-5.1},{"s":"pTL2-7","t":357,"v":-4.9},{"s":"pTL2-7","t":361,"v":-5.05},{"s":"pTL2-7","t":365,"v":-4.85},{"s":"pTL2-7","t":369,"v":-5.0},{"s":"pTL2-7","t":373,"v":-4.8},{"s":"pTL2-7","t":377,"v":-4.95},{"s":"pTL2-7","t":381,"v":-4.75},{"s":"pTL2-7","t":385,"v":-4.9},{"s":"pTL2-7","t":389,"v":-4.7},{"s":"pTL2-7","t":393,"v":-4.85},{"s":"pTL2-7","t":397,"v":-4.7},{"s":"pTL2-7","t":401,"v":-4.8},{"s":"pTL2-7","t":403,"v":-4.75},
{"s":"pTB999","t":0,"v":-0.1},{"s":"pTB999","t":4,"v":0.08},{"s":"pTB999","t":8,"v":-0.12},{"s":"pTB999","t":12,"v":0.06},{"s":"pTB999","t":16,"v":-0.05},{"s":"pTB999","t":20,"v":0.1},{"s":"pTB999","t":24,"v":0.02},{"s":"pTB999","t":28,"v":-0.1},{"s":"pTB999","t":32,"v":0.06},
{"s":"pTB999","t":33,"v":-0.85},{"s":"pTB999","t":36,"v":-1.0},{"s":"pTB999","t":40,"v":-0.8},{"s":"pTB999","t":44,"v":-0.7},{"s":"pTB999","t":48,"v":-0.85},{"s":"pTB999","t":52,"v":-0.72},{"s":"pTB999","t":56,"v":-0.9},{"s":"pTB999","t":60,"v":-1.05},{"s":"pTB999","t":64,"v":-1.2},{"s":"pTB999","t":66.5,"v":-1.1},
{"s":"pTB999","t":67.5,"v":-1.6},{"s":"pTB999","t":70,"v":-1.8},{"s":"pTB999","t":74,"v":-1.65},{"s":"pTB999","t":78,"v":-1.9},{"s":"pTB999","t":82,"v":-1.75},{"s":"pTB999","t":86,"v":-1.95},{"s":"pTB999","t":90,"v":-1.8},{"s":"pTB999","t":94,"v":-2.0},{"s":"pTB999","t":99.5,"v":-1.9},
{"s":"pTB999","t":100.5,"v":-2.3},{"s":"pTB999","t":104,"v":-2.5},{"s":"pTB999","t":108,"v":-2.35},{"s":"pTB999","t":112,"v":-2.55},{"s":"pTB999","t":116,"v":-2.4},{"s":"pTB999","t":120,"v":-2.6},{"s":"pTB999","t":124,"v":-2.45},{"s":"pTB999","t":128,"v":-2.65},{"s":"pTB999","t":133.5,"v":-2.55},
{"s":"pTB999","t":134.5,"v":-2.95},{"s":"pTB999","t":138,"v":-3.15},{"s":"pTB999","t":142,"v":-3.0},{"s":"pTB999","t":146,"v":-3.2},{"s":"pTB999","t":150,"v":-3.05},{"s":"pTB999","t":154,"v":-3.25},{"s":"pTB999","t":158,"v":-3.1},{"s":"pTB999","t":162,"v":-3.3},{"s":"pTB999","t":167.5,"v":-3.2},
{"s":"pTB999","t":168.5,"v":-3.55},{"s":"pTB999","t":172,"v":-3.75},{"s":"pTB999","t":176,"v":-3.6},{"s":"pTB999","t":180,"v":-3.8},{"s":"pTB999","t":184,"v":-3.65},{"s":"pTB999","t":188,"v":-3.85},{"s":"pTB999","t":192,"v":-3.7},{"s":"pTB999","t":196,"v":-3.9},{"s":"pTB999","t":200.5,"v":-3.8},
{"s":"pTB999","t":201.5,"v":-3.9},{"s":"pTB999","t":205,"v":-4.1},{"s":"pTB999","t":209,"v":-3.95},{"s":"pTB999","t":213,"v":-4.15},{"s":"pTB999","t":217,"v":-4.0},{"s":"pTB999","t":221,"v":-4.2},{"s":"pTB999","t":225,"v":-4.05},{"s":"pTB999","t":229,"v":-4.25},{"s":"pTB999","t":234.5,"v":-4.15},
{"s":"pTB999","t":235.5,"v":-4.35},{"s":"pTB999","t":239,"v":-4.55},{"s":"pTB999","t":243,"v":-4.4},{"s":"pTB999","t":247,"v":-4.6},{"s":"pTB999","t":251,"v":-4.45},{"s":"pTB999","t":255,"v":-4.65},{"s":"pTB999","t":259,"v":-4.5},{"s":"pTB999","t":263,"v":-4.7},{"s":"pTB999","t":268.5,"v":-4.6},
{"s":"pTB999","t":269.5,"v":-5.05},{"s":"pTB999","t":273,"v":-5.15},{"s":"pTB999","t":277,"v":-4.95},{"s":"pTB999","t":281,"v":-5.05},{"s":"pTB999","t":285,"v":-4.85},{"s":"pTB999","t":289,"v":-4.95},{"s":"pTB999","t":293,"v":-4.75},{"s":"pTB999","t":297,"v":-4.85},{"s":"pTB999","t":301,"v":-4.65},{"s":"pTB999","t":305,"v":-4.75},{"s":"pTB999","t":309,"v":-4.55},{"s":"pTB999","t":313,"v":-4.65},{"s":"pTB999","t":317,"v":-4.5},{"s":"pTB999","t":321,"v":-4.6},{"s":"pTB999","t":325,"v":-4.45},{"s":"pTB999","t":329,"v":-4.55},{"s":"pTB999","t":333,"v":-4.4},{"s":"pTB999","t":337,"v":-4.5},{"s":"pTB999","t":341,"v":-4.35},{"s":"pTB999","t":345,"v":-4.45},{"s":"pTB999","t":349,"v":-4.3},{"s":"pTB999","t":353,"v":-4.4},{"s":"pTB999","t":357,"v":-4.25},{"s":"pTB999","t":361,"v":-4.35},{"s":"pTB999","t":365,"v":-4.2},{"s":"pTB999","t":369,"v":-4.3},{"s":"pTB999","t":373,"v":-4.15},{"s":"pTB999","t":377,"v":-4.25},{"s":"pTB999","t":381,"v":-4.1},{"s":"pTB999","t":385,"v":-4.2},{"s":"pTB999","t":389,"v":-4.05},{"s":"pTB999","t":393,"v":-4.15},{"s":"pTB999","t":397,"v":-4.0},{"s":"pTB999","t":401,"v":-4.1},{"s":"pTB999","t":403,"v":-4.05}
]
},
"layer":[
{
"layer":[
{"data":{"name":"panelA"},"mark":{"type":"line","color":"black","strokeWidth":2},
 "encoding":{"x":{"field":"t","type":"quantitative","scale":{"domain":[-117.19,653.12],"nice":false,"zero":false},"axis":null},
 "y":{"field":"v","type":"quantitative","scale":{"domain":[-72.91,1.86],"nice":false,"zero":false},"axis":null},
 "detail":{"field":"s"}}},
{"data":{"values":[{"t1":-1.5,"t2":-1.5,"v1":-21.2,"v2":-29.2},{"t1":-1.5,"t2":100,"v1":-29.2,"v2":-29.2}]},
 "mark":{"type":"rule","color":"black","strokeWidth":1.5},
 "encoding":{"x":{"field":"t1","type":"quantitative"},"x2":{"field":"t2"},"y":{"field":"v1","type":"quantitative"},"y2":{"field":"v2"}}},
{"data":{"values":[{"label":"RC6crtD(pTL2-9)","t":414,"v":-2.56},{"label":"RC6crtD(pTL2)","t":414,"v":-11.0},{"label":"RC6crtD(pTL2-7)","t":414,"v":-13.2},{"label":"RC6crtD(pTB999)","t":414,"v":-22.79}]},
 "mark":{"type":"text","align":"left","baseline":"middle","fontSize":18,"fontWeight":"bold","font":"Liberation Serif","color":"black"},
 "encoding":{"x":{"field":"t","type":"quantitative"},"y":{"field":"v","type":"quantitative"},"text":{"field":"label"}}},
{"data":{"values":[{"label":"A =","t":-15.6,"v":-24.77},{"label":"0.008","t":-14.1,"v":-27.09}]},
 "mark":{"type":"text","align":"right","baseline":"alphabetic","fontSize":19,"fontWeight":"bold","font":"Liberation Serif","color":"black"},
 "encoding":{"x":{"field":"t","type":"quantitative"},"y":{"field":"v","type":"quantitative"},"text":{"field":"label"}}},
{"data":{"values":[{"label":"100 ms","t":43.75,"v":-31.74}]},
 "mark":{"type":"text","align":"center","baseline":"alphabetic","fontSize":19,"fontWeight":"bold","font":"Liberation Serif","color":"black"},
 "encoding":{"x":{"field":"t","type":"quantitative"},"y":{"field":"v","type":"quantitative"},"text":{"field":"label"}}},
{"data":{"values":[{"label":"A","t":-78.1,"v":-15.58}]},
 "mark":{"type":"text","align":"center","baseline":"alphabetic","fontSize":40,"fontWeight":"bold","font":"Liberation Serif","color":"black"},
 "encoding":{"x":{"field":"t","type":"quantitative"},"y":{"field":"v","type":"quantitative"},"text":{"field":"label"}}}
]
},
{
"layer":[
{"data":{"name":"panelB"},"mark":{"type":"line","color":"black","strokeWidth":1},
 "encoding":{"x":{"field":"t","type":"quantitative","scale":{"domain":[-117.19,653.12],"nice":false,"zero":false},"axis":null},
 "y":{"field":"v","type":"quantitative","scale":{"domain":[-6.923,9.564],"nice":false,"zero":false},"axis":null},
 "detail":{"field":"s"}}},
{"data":{"values":[{"t1":-2,"t2":-2,"v1":-4.3,"v2":-6.31},{"t1":-2,"t2":100,"v1":-6.31,"v2":-6.31}]},
 "mark":{"type":"rule","color":"black","strokeWidth":1.5},
 "encoding":{"x":{"field":"t1","type":"quantitative"},"x2":{"field":"t2"},"y":{"field":"v1","type":"quantitative"},"y2":{"field":"v2"}}},
{"data":{"values":[{"label":"RC6crtD(pTL2)","t":414,"v":-1.72},{"label":"RC6crtD(pTB999)","t":414,"v":-4.36},{"label":"RC6crtD(pTL2-7)","t":414,"v":-4.87},{"label":"RC6crtD(pTL2-9)","t":414,"v":-5.36}]},
 "mark":{"type":"text","align":"left","baseline":"middle","fontSize":18,"fontWeight":"bold","font":"Liberation Serif","color":"black"},
 "encoding":{"x":{"field":"t","type":"quantitative"},"y":{"field":"v","type":"quantitative"},"text":{"field":"label"}}},
{"data":{"values":[{"label":"A =","t":-15.6,"v":-5.05},{"label":"0.002","t":-14.1,"v":-5.82}]},
 "mark":{"type":"text","align":"right","baseline":"alphabetic","fontSize":19,"fontWeight":"bold","font":"Liberation Serif","color":"black"},
 "encoding":{"x":{"field":"t","type":"quantitative"},"y":{"field":"v","type":"quantitative"},"text":{"field":"label"}}},
{"data":{"values":[{"label":"100 ms","t":43.75,"v":-6.97}]},
 "mark":{"type":"text","align":"center","baseline":"alphabetic","fontSize":19,"fontWeight":"bold","font":"Liberation Serif","color":"black"},
 "encoding":{"x":{"field":"t","type":"quantitative"},"y":{"field":"v","type":"quantitative"},"text":{"field":"label"}}},
{"data":{"values":[{"label":"B","t":-79,"v":-3.64}]},
 "mark":{"type":"text","align":"center","baseline":"alphabetic","fontSize":40,"fontWeight":"bold","font":"Liberation Serif","color":"black"},
 "encoding":{"x":{"field":"t","type":"quantitative"},"y":{"field":"v","type":"quantitative"},"text":{"field":"label"}}}
]
}
],
"resolve":{"scale":{"y":"independent"}}
}
